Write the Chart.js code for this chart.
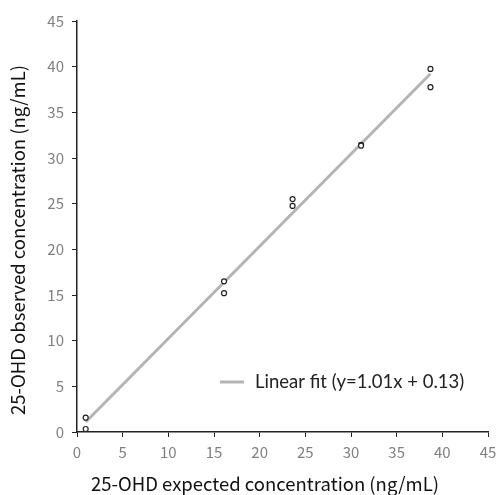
<!DOCTYPE html>
<html><head><meta charset="utf-8">
<script src="https://cdn.jsdelivr.net/npm/chart.js@4/dist/chart.umd.min.js"></script>
<style>html,body{margin:0;padding:0;background:#fff}#wrap{width:498px;height:495px}</style>
</head><body><div id="wrap"><canvas id="c" width="498" height="495"></canvas></div>
<script>
const expectedX = [0.95, 0.95, 16.1, 16.1, 23.6, 23.6, 31.1, 31.1, 38.7, 38.7];
const observedY = [1.57, 0.33, 16.5, 15.2, 25.5, 24.75, 31.45, 31.35, 39.75, 37.75];
const fitSlope = 1.01, fitIntercept = 0.13;
const fitRangeX = [0.95, 38.7];
const legendLabel = 'Linear fit (y=1.01x + 0.13)';
const xTitle = '25-OHD expected concentration (ng/mL)';
const yTitle = '25-OHD observed concentration (ng/mL)';
const axisMin = 0, axisMax = 45, axisStep = 5;

const points = expectedX.map((x, i) => ({x, y: observedY[i]}));
const fitLine = fitRangeX.map(x => ({x, y: fitSlope * x + fitIntercept}));

const overlay = {
  id: 'overlay',
  afterDraw(chart) {
    const ctx = chart.ctx;
    ctx.save();
    const ly = 382;
    ctx.strokeStyle = '#b4b4b4'; ctx.lineWidth = 3;
    ctx.beginPath(); ctx.moveTo(220, ly); ctx.lineTo(244, ly); ctx.stroke();
    ctx.fillStyle = '#222'; ctx.font = '18.5px Lato, "Open Sans", sans-serif';
    ctx.textBaseline = 'middle'; ctx.textAlign = 'left';
    ctx.fillText(legendLabel, 255, ly);
    ctx.fillStyle = '#111';
    ctx.font = '18.5px "Noto Sans CJK JP", sans-serif';
    ctx.textAlign = 'center';
    ctx.fillText(xTitle, 265, 484);
    ctx.translate(18, 240); ctx.rotate(-Math.PI / 2);
    ctx.fillText(yTitle, 0, 0);
    ctx.restore();
  }
};

new Chart(document.getElementById('c'), {
  type: 'scatter',
  data: {
    datasets: [
      {label: 'Observed', data: points, showLine: false, pointRadius: 2.5, pointBorderWidth: 1.2,
       pointBorderColor: '#222', pointBackgroundColor: '#fff', order: 1},
      {label: legendLabel, data: fitLine, showLine: true, pointRadius: 0, borderColor: '#b4b4b4',
       borderWidth: 3, order: 2}
    ]
  },
  options: {
    responsive: false, animation: false,
    layout: {padding: {left: 0, top: 21, right: 10, bottom: 0}},
    plugins: {legend: {display: false}, tooltip: {enabled: false}},
    scales: {
      x: {
        type: 'linear', min: axisMin, max: axisMax,
        afterFit(s) { s.height = 63; s.paddingRight = 0; s.paddingLeft = 0; },
        grid: {display: true, drawOnChartArea: false, drawTicks: true, tickLength: 5, color: '#222', lineWidth: 1},
        border: {display: true, color: '#222', width: 1.5},
        ticks: {stepSize: axisStep, color: '#808080', padding: 6, font: {size: 15, family: '"Noto Sans CJK JP", sans-serif'}}
      },
      y: {
        type: 'linear', min: axisMin, max: axisMax,
        afterFit(s) { s.width = 77; s.paddingTop = 0; s.paddingBottom = 0; },
        grid: {display: true, drawOnChartArea: false, drawTicks: true, tickLength: 5, color: '#222', lineWidth: 1},
        border: {display: true, color: '#222', width: 1.5},
        ticks: {stepSize: axisStep, color: '#808080', padding: 8, font: {size: 15, family: '"Noto Sans CJK JP", sans-serif'}}
      }
    }
  },
  plugins: [overlay]
});
</script></body></html>
